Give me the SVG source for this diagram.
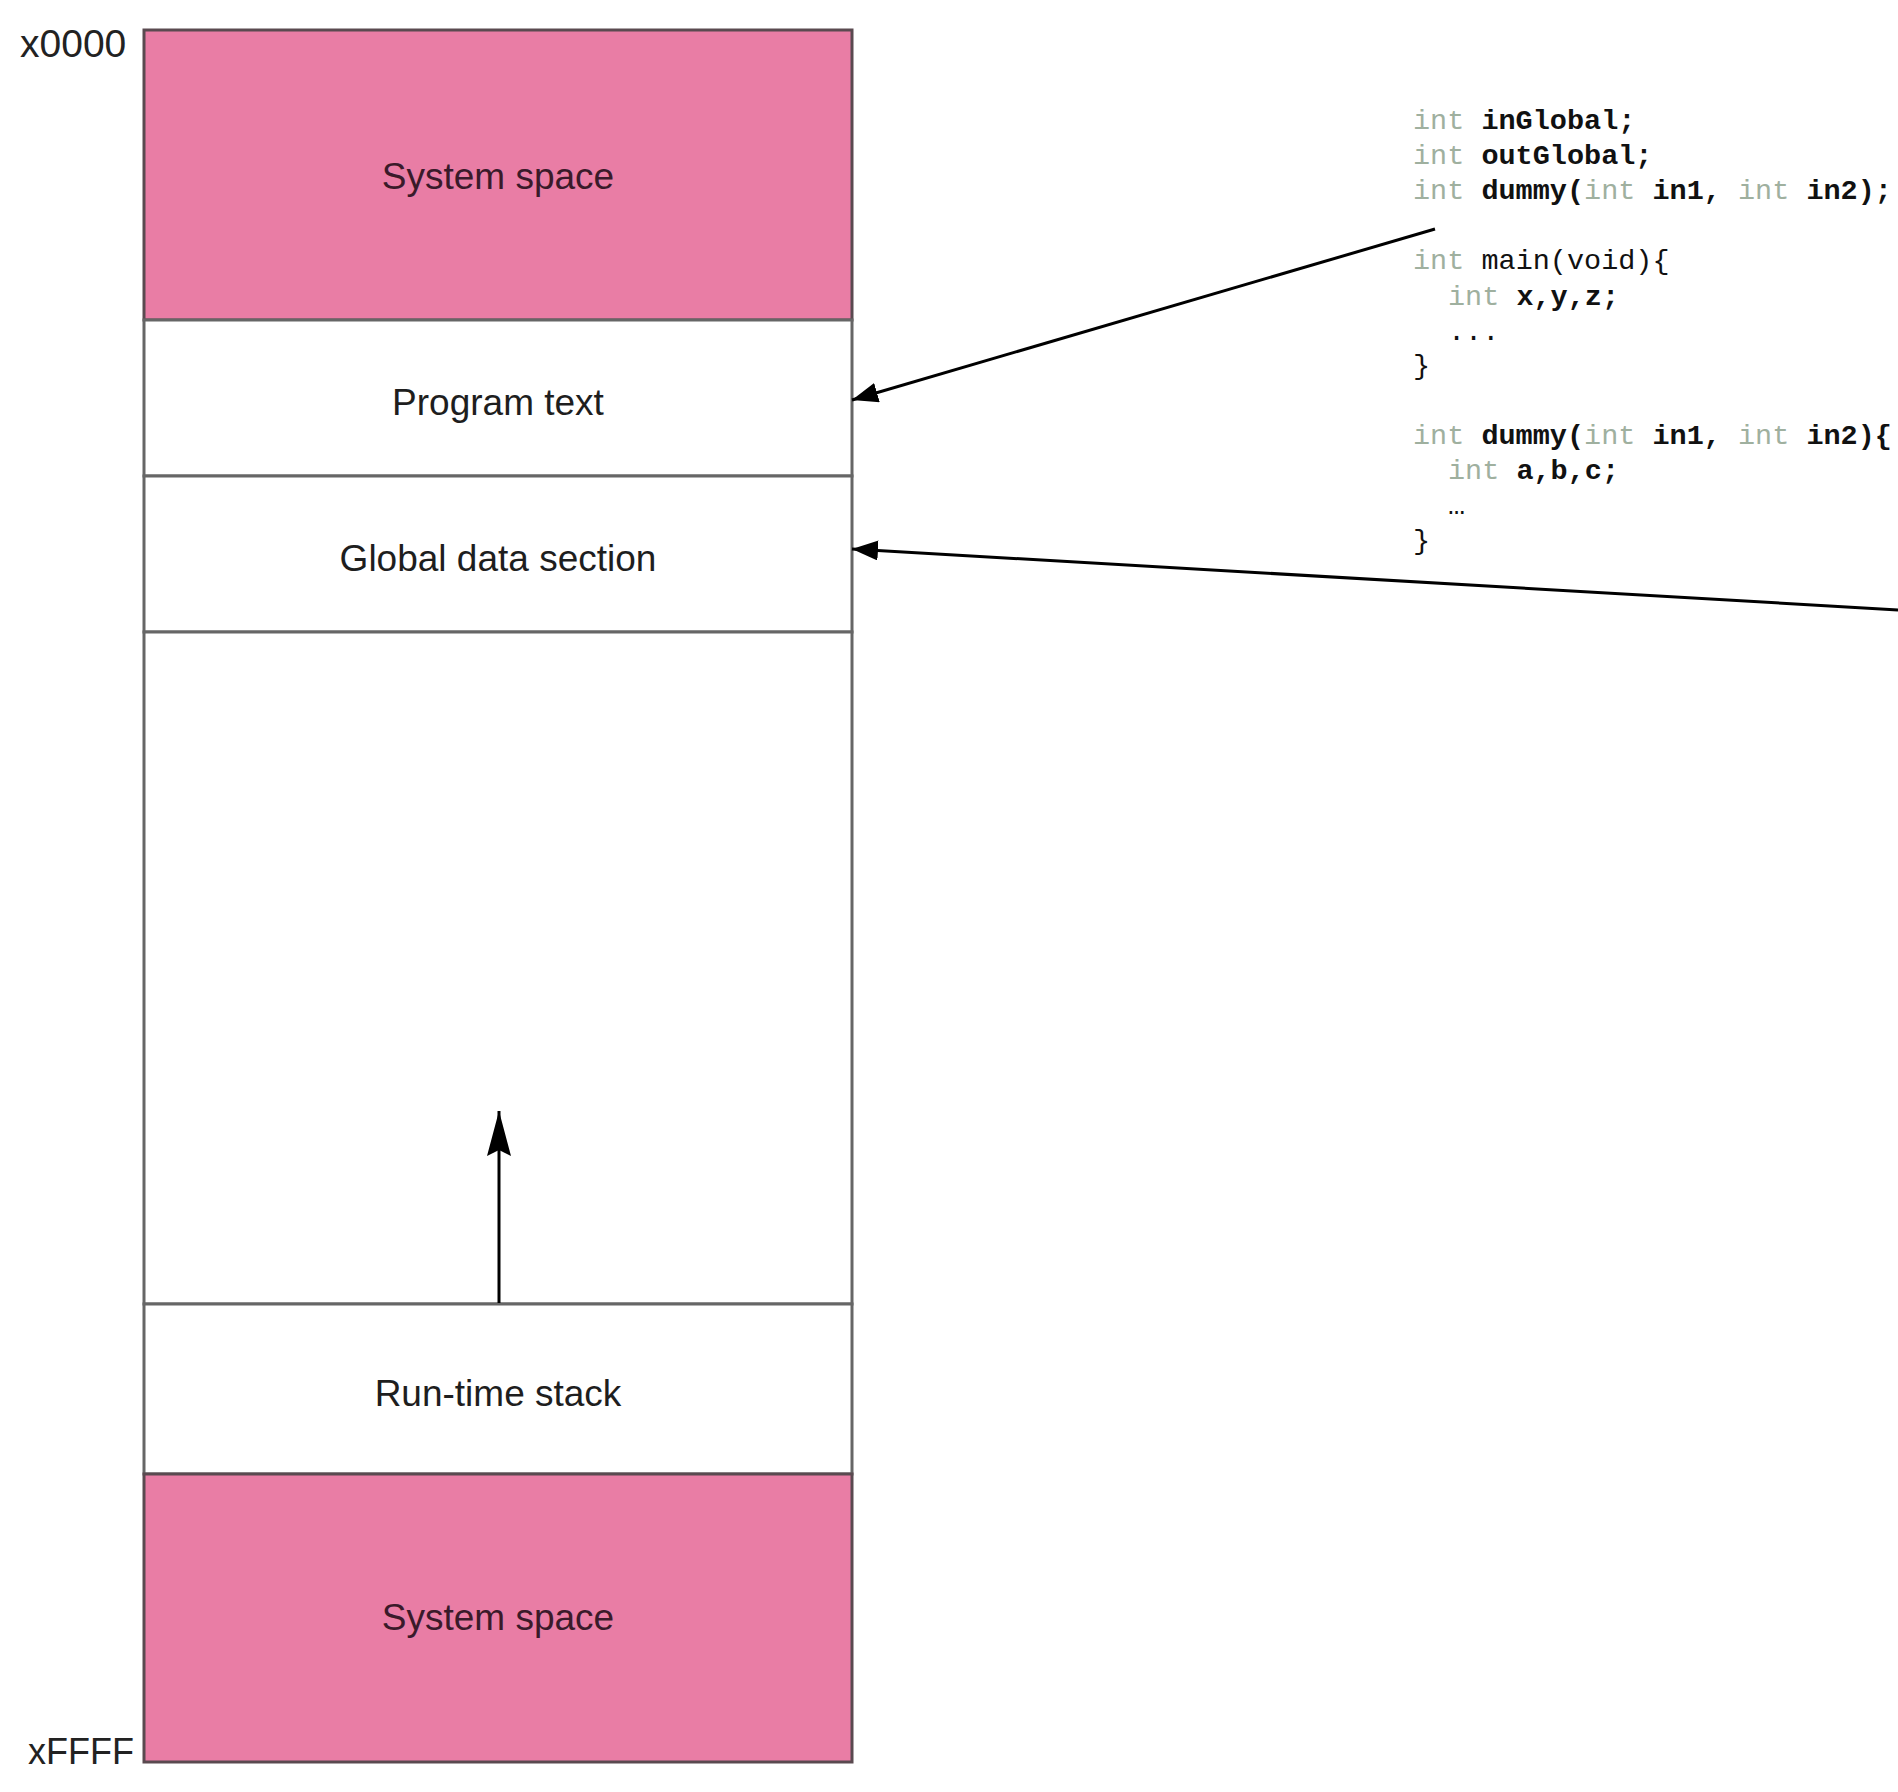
<svg xmlns="http://www.w3.org/2000/svg" width="1898" height="1792" viewBox="0 0 1898 1792">
<style>
.sys{fill:#E97DA5;stroke:#5a4a50;stroke-width:3}
.seg{fill:#ffffff;stroke:#666666;stroke-width:3}
.lbl{font-family:"Liberation Sans",Arial,sans-serif;font-size:37px;fill:#1e1e1e;text-anchor:middle}
.lblp{fill:#3a1a2a}
.addr{font-family:"Liberation Sans",Arial,sans-serif;font-size:36px;fill:#222222}
.code{font-family:"Liberation Mono","Courier New",monospace;font-size:28.5px;fill:#111111;font-weight:bold;white-space:pre}
.kw{fill:#9fb09f;font-weight:normal}
.nb{font-weight:normal}
.conn{stroke:#000000;stroke-width:3;fill:none}
</style>
<defs>
<marker id="ah" markerUnits="userSpaceOnUse" markerWidth="28" markerHeight="22" refX="26" refY="10" orient="auto">
<path d="M0,0 L26,10 L0,20 Z" fill="#000000"/>
</marker>
<marker id="ahbig" markerUnits="userSpaceOnUse" markerWidth="48" markerHeight="26" refX="45" refY="12" orient="auto">
<path d="M0,0 L45,12 L0,24 L6,12 Z" fill="#000000"/>
</marker>
</defs>
<rect x="0" y="0" width="1898" height="1792" fill="#ffffff"/>

<g id="addr-top"><text class="addr" x="20" y="57" style="font-size:39px">x0000</text></g>
<g id="addr-bottom"><text class="addr" x="28" y="1764">xFFFF</text></g>

<g id="system-space-top">
<rect class="sys" x="144" y="30" width="708" height="290"/>
<text class="lbl lblp" x="498" y="189">System space</text>
</g>
<g id="program-text">
<rect class="seg" x="144" y="320" width="708" height="156"/>
<text class="lbl" x="498" y="415">Program text</text>
</g>
<g id="global-data">
<rect class="seg" x="144" y="476" width="708" height="156"/>
<text class="lbl" x="498" y="571">Global data section</text>
</g>
<g id="free-space">
<rect class="seg" x="144" y="632" width="708" height="672"/>
</g>
<g id="run-time-stack">
<rect class="seg" x="144" y="1304" width="708" height="170"/>
<text class="lbl" x="498" y="1406">Run-time stack</text>
</g>
<g id="system-space-bottom">
<rect class="sys" x="144" y="1474" width="708" height="288"/>
<text class="lbl lblp" x="498" y="1630">System space</text>
</g>

<g id="code">
<text class="code" x="1413" y="129"><tspan class="kw">int</tspan> inGlobal;</text>
<text class="code" x="1413" y="164"><tspan class="kw">int</tspan> outGlobal;</text>
<text class="code" x="1413" y="199"><tspan class="kw">int</tspan> dummy(<tspan class="kw">int</tspan> in1, <tspan class="kw">int</tspan> in2);</text>
<text class="code" x="1413" y="269"><tspan class="kw">int</tspan> <tspan class="nb">main(void){</tspan></text>
<text class="code" x="1448" y="305"><tspan class="kw">int</tspan> x,y,z;</text>
<text class="code nb" x="1448" y="340">...</text>
<text class="code nb" x="1413" y="374">}</text>
<text class="code" x="1413" y="444"><tspan class="kw">int</tspan> dummy(<tspan class="kw">int</tspan> in1, <tspan class="kw">int</tspan> in2){</text>
<text class="code" x="1448" y="479"><tspan class="kw">int</tspan> a,b,c;</text>
<text class="code nb" x="1448" y="514">…</text>
<text class="code nb" x="1413" y="549">}</text>
</g>

<g id="connectors">
<line class="conn" x1="1435" y1="229" x2="852" y2="400" marker-end="url(#ah)"/>
<line class="conn" x1="1898" y1="610" x2="852" y2="549" marker-end="url(#ah)"/>
<line class="conn" x1="499" y1="1303" x2="499" y2="1111" marker-end="url(#ahbig)"/>
</g>
</svg>
